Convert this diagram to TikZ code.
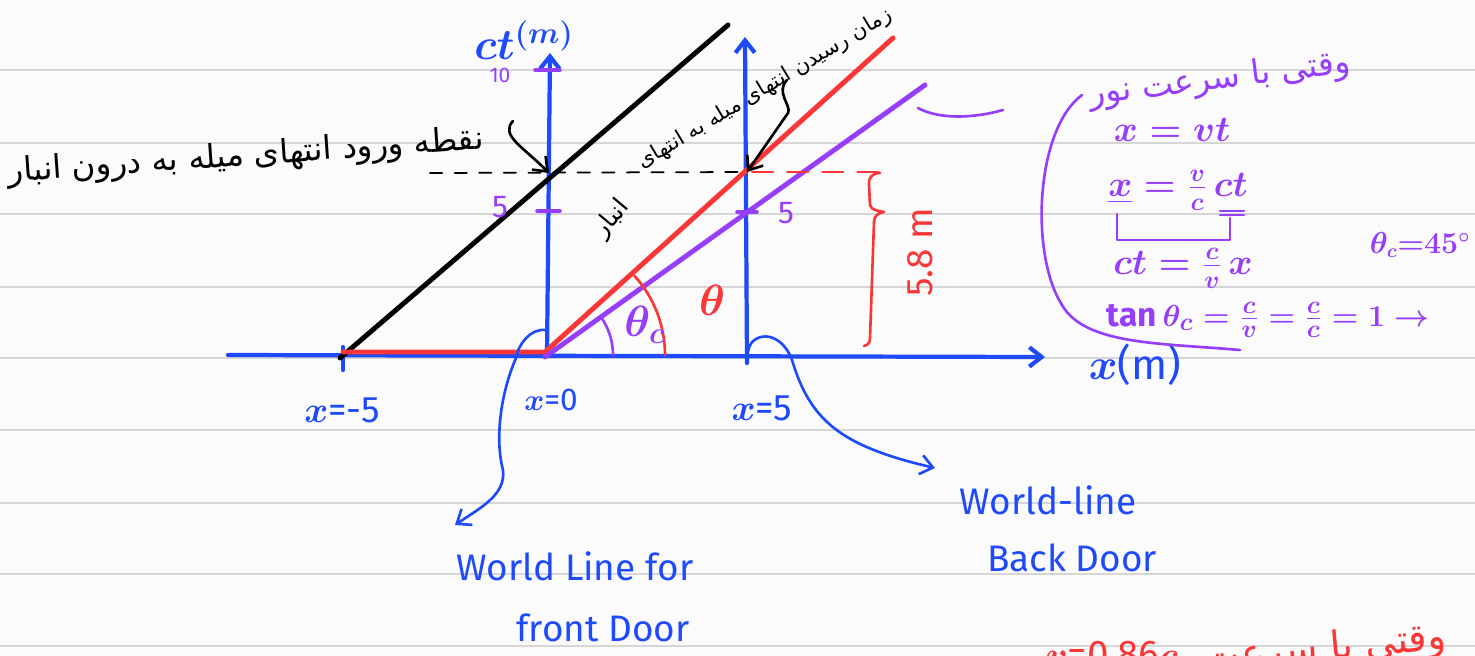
\documentclass[tikz,border=0pt]{standalone}
\usepackage{amsmath}
\usepackage{fontspec}
\setmainfont{Fira Sans}
\newfontfamily\fafont[Script=Arabic]{DejaVu Sans}
\TeXXeTstate=1
\usetikzlibrary{calc, arrows.meta}

\definecolor{penblue}{RGB}{30,74,250}
\definecolor{penred}{RGB}{250,54,54}
\definecolor{penpurple}{RGB}{150,62,250}
\definecolor{paperline}{RGB}{214,214,214}
\definecolor{paperbg}{RGB}{251,251,251}

\begin{document}
\begin{tikzpicture}[x=0.02cm, y=-0.02cm, >={Straight Barb[length=7pt, width=11pt]}, line cap=round, line join=round]

		% --- Parametri ---
		\def\paperW{1475}
		\def\paperH{656}

		% --- Stili ---
		\tikzset{
			paper_line/.style={draw=paperline, line width=1.1pt},
			axis_line/.style={draw=penblue, line width=2.4pt},
			world_line/.style={line width=2.8pt},
			pen_stroke/.style={line width=1.5pt},
			hand_text/.style={inner sep=1pt, font=\fontsize{21}{24}\selectfont\boldmath},
			math_text/.style={inner sep=1pt, font=\fontsize{22}{26}\selectfont\boldmath},
			fa_text/.style={inner sep=1pt, font=\fafont\fontsize{18}{22}\selectfont}
		}

		% --- Foglio a righe ---
		\useasboundingbox (0,0) rectangle (\paperW,\paperH);
		\fill[paperbg] (0,0) rectangle (\paperW,\paperH);
		\clip (0,0) rectangle (\paperW,\paperH);
		\foreach \yy in {70,143,214,287,358,430,503,574,646}
			\draw[paper_line] (0,\yy) -- (\paperW,\yy);

		% --- Punti del diagramma ---
		\coordinate (O) at (547,355);
		\coordinate (x_start) at (228,355);
		\coordinate (x_end) at (1045,357);
		\coordinate (ct_top) at (550,53);
		\coordinate (back_bottom) at (747,363);
		\coordinate (back_top) at (745,37);
		\coordinate (xm5) at (343,355);
		\coordinate (black_start) at (340,358);
		\coordinate (black_end) at (728,25);
		\coordinate (red_start) at (545,352);
		\coordinate (red_end) at (893,38);
		\coordinate (purple_start) at (545,357);
		\coordinate (purple_end) at (925,85);
		\coordinate (enter_pt) at (549,173);
		\coordinate (exit_pt) at (747,172);

		% --- Assi ---
		\draw[axis_line, ->] (x_start) -- (x_end);
		\draw[axis_line, ->] (O) -- (ct_top);
		\draw[axis_line, ->] (back_bottom) -- (back_top);
		\draw[axis_line] (343,347) -- (343,370);

		% Tacche viola
		\draw[penpurple, line width=2pt] (535,70) -- (560,70);
		\draw[penpurple, line width=2pt] (537,211) -- (560,211);
		\draw[penpurple, line width=2pt] (737,212) -- (757,212);

		% --- Linee d'universo ---
		\draw[world_line, black] (black_start) -- (black_end);
		\draw[world_line, penred] (xm5 |- red_start) -- (red_start) -- (red_end);
		\draw[world_line, penpurple] (purple_start) -- (purple_end);

		% Linee tratteggiate
		\draw[black, line width=1pt, dash pattern=on 7pt off 7pt] (430,173) -- (exit_pt);
		\draw[penred, line width=1.2pt, dash pattern=on 12pt off 8pt] (752,172) -- (880,172);

		% Graffa 5.8 m
		\draw[penred, pen_stroke] (880,173) .. controls (872,173) and (868,178) .. (869,185)
			-- (870,205) .. controls (871,210) and (878,211) .. (884,212)
			.. controls (878,213) and (874,216) .. (874,222) -- (870,338)
			.. controls (870,343) and (868,345) .. (864,346);
		\node[hand_text, text=penred, rotate=90] (len_label) at (920,252) {5.8 m};

		% --- Angoli ---
		\draw[penpurple, pen_stroke] (O) ++(66,0) arc[start angle=0, end angle=-36, radius=66];
		\draw[penred, pen_stroke] (O) ++(118,0) arc[start angle=0, end angle=-42, radius=118];
		\node[math_text, text=penpurple, font=\fontsize{26}{28}\selectfont\boldmath] (theta_c) at (645,325) {$\theta_c$};
		\node[math_text, text=penred, font=\fontsize{30}{32}\selectfont\boldmath] (theta) at (712,300) {$\theta$};

		% --- Etichette assi ---
		\node[hand_text, text=penblue, font=\fontsize{24}{26}\selectfont\boldmath] (ct_label) at (524,40) {$ct^{(m)}$};
		\node[hand_text, text=penblue, font=\fontsize{24}{26}\selectfont\boldmath] (x_label) at (1135,365) {$x$(m)};
		\node[hand_text, text=penpurple, font=\fontsize{12}{14}\selectfont] (ten_label) at (500,75) {10};
		\node[hand_text, text=penpurple, font=\fontsize{18}{20}\selectfont] (five_left) at (500,207) {5};
		\node[hand_text, text=penpurple, font=\fontsize{18}{20}\selectfont] (five_right) at (786,213) {5};
		\node[hand_text, text=penblue] (xm5_label) at (342,410) {$x$=-5};
		\node[hand_text, text=penblue, font=\fontsize{18}{20}\selectfont\boldmath] (x0_label) at (551,400) {$x$=0};
		\node[hand_text, text=penblue] (x5_label) at (762,408) {$x$=5};

		% --- Porte ---
		\node[hand_text, text=penblue] (front_l1) at (575,566) {World Line for};
		\node[hand_text, text=penblue] (front_l2) at (603,628) {front Door};
		\node[hand_text, text=penblue] (back_l1) at (1048,500) {World-line};
		\node[hand_text, text=penblue] (back_l2) at (1072,558) {Back Door};
		\coordinate (front_foot) at (546,330);
		\coordinate (front_tip) at (455,525);
		\coordinate (back_foot) at (748,352);
		\coordinate (back_tip) at (935,468);
		\draw[->, penblue, pen_stroke] (front_foot) .. controls (530,328) and (518,345) .. (516,358)
			.. controls (500,395) and (495,440) .. (503,470)
			.. controls (506,495) and (480,508) .. (front_tip);
		\draw[->, penblue, pen_stroke] (back_foot) .. controls (750,332) and (780,328) .. (792,360)
			.. controls (810,420) and (840,446) .. (back_tip);

		% --- Note in persiano ---
		\node[fa_text, rotate=4, font=\fafont\fontsize{18.5}{22}\selectfont] (enter_note) at (246,157) {\beginR نقطه ورود انتهای میله به درون انبار\endR};
		\coordinate (enter_from) at (513,121);
		\draw[->, pen_stroke] (enter_from) .. controls (500,135) and (522,146) .. (enter_pt);

		\node[fa_text, rotate=31, font=\fafont\fontsize{12}{15}\selectfont] (exit_note) at (765,89) {\beginR زمان رسیدن انتهای میله به انتهای\endR};
		\node[fa_text, rotate=50, font=\fafont\fontsize{14}{16}\selectfont] (exit_note2) at (612,219) {\beginR انبار\endR};
		\coordinate (exit_from) at (787,80);
		\draw[->, pen_stroke] (exit_from) .. controls (775,92) and (792,106) .. (788,113) -- (exit_pt);

		% --- Velocita' della luce ---
		\node[fa_text, text=penpurple, rotate=7, font=\fafont\fontsize{19}{22}\selectfont] (light_note) at (1220,80) {\beginR وقتی با سرعت نور\endR};
		\coordinate (tail_start) at (918,108);
		\coordinate (tail_end) at (1003,110);
		\draw[penpurple, pen_stroke] (tail_start) .. controls (940,120) and (975,118) .. (tail_end);
		\coordinate (brace_top) at (1082,95);
		\coordinate (brace_end) at (1240,350);
		\draw[penpurple, pen_stroke] (brace_top) .. controls (1035,130) and (1030,255) .. (1062,305)
			.. controls (1085,345) and (1160,343) .. (brace_end);

		\node[math_text, text=penpurple] (eq_one) at (1172,130) {$x = vt$};
		\node[math_text, text=penpurple] (eq_two) at (1178,190) {$\underline{x} = \frac{v}{c}\,ct$};
		\draw[penpurple, pen_stroke] (1117,214) -- (1117,240) -- (1230,240) -- (1230,218);
		\draw[penpurple, pen_stroke] (1220,211) -- (1244,211) (1220,215) -- (1244,215);
		\node[math_text, text=penpurple] (eq_three) at (1183,268) {$ct = \frac{c}{v}\,x$};
		\node[math_text, text=penpurple, font=\fontsize{19}{24}\selectfont\boldmath] (eq_four) at (1268,320) {$\tan\theta_c = \frac{c}{v} = \frac{c}{c} = 1 \rightarrow$};
		\node[math_text, text=penpurple, font=\fontsize{16}{20}\selectfont\boldmath] (eq_angle) at (1420,245) {$\theta_c{=}45^\circ$};

		% --- Nota rossa (tagliata) ---
		\node[math_text, text=penred] (speed_note) at (1112,655) {$v$=0.86$c$};
		\node[fa_text, text=penred, rotate=5, font=\fafont\fontsize{22}{24}\selectfont] (red_note) at (1325,650) {\beginR وقتی با سرعت\endR};

\end{tikzpicture}
\end{document}
